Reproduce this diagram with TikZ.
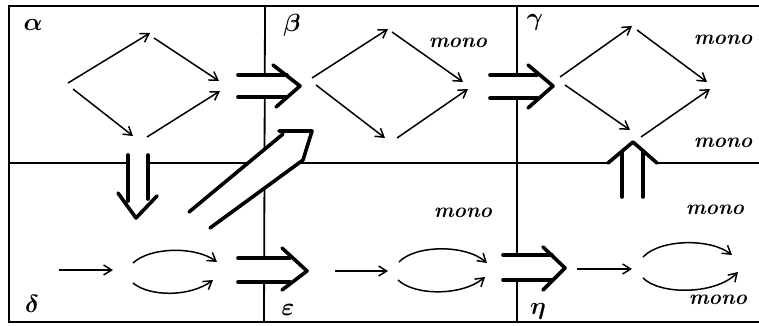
\documentclass[tikz,border=0pt]{standalone}
\usetikzlibrary{arrows.meta}
\newcommand{\bgreek}[1]{{\boldmath$#1$}}
\begin{document}
\begin{tikzpicture}[x=1pt,y=-1pt,
  frame/.style={line width=2.2pt},
  divider/.style={line width=1.8pt},
  thinarrow/.style={line width=1.5pt,-{Straight Barb[length=8pt,width=10pt,line width=1.5pt]}},
  fat/.style={line width=3.6pt,line cap=round,line join=round},
  mask/.style={fill=white,draw=none},
  cell/.style={font=\fontsize{25}{27}\selectfont, inner sep=0pt},
  mono/.style={font=\fontsize{21}{24}\selectfont\bfseries\itshape, inner sep=0pt}]
\useasboundingbox (0,0) rectangle (759,325);
% frame
\draw[frame] (759,6) -- (9,6) -- (9,322) -- (759,322);
\draw[divider] (9,163) -- (759,163);
\draw[divider] (265,6) -- (264,322);
\draw[divider] (517,6) -- (517,322);
% mono labels
\node[mono] (m1) at (458,43) {mono};
\node[mono] (m2) at (723,40) {mono};
\node[mono] (m3) at (723,143) {mono};
\node[mono] (m4) at (463,213) {mono};
\node[mono] (m5) at (715,210) {mono};
\node[mono] (m6) at (718,300) {mono};
% cell labels
\node[cell] (la) at (33,25) {\bgreek{\alpha}};
\node[cell] (lb) at (292,25) {\bgreek{\beta}};
\node[cell] (lg) at (535,22) {\bgreek{\gamma}};
\node[cell] (ld) at (32,304) {\bgreek{\delta}};
\node[cell] (le) at (288,310) {\bgreek{\varepsilon}};
\node[cell] (lh) at (538,311) {\bgreek{\eta}};
% alpha diamond
\draw[thinarrow] (68,83) -- (150,33);
\draw[thinarrow] (154,38) -- (219,81);
\draw[thinarrow] (73,89) -- (133,136);
\draw[thinarrow] (147,137) -- (220,91);
% beta diamond
\draw[thinarrow] (312,78) -- (388,29);
\draw[thinarrow] (392,32) -- (463,82);
\draw[thinarrow] (316,85) -- (385,138);
\draw[thinarrow] (397,138) -- (468,89);
% gamma diamond
\draw[thinarrow] (560,77) -- (632,26);
\draw[thinarrow] (637,30) -- (707,82);
\draw[thinarrow] (565,85) -- (630,130);
\draw[thinarrow] (641,137) -- (710,89);
% delta
\draw[thinarrow] (59,270) -- (113,270);
\draw[thinarrow] (133,263) .. controls (150,247) and (195,246) .. (217,262);
\draw[thinarrow] (133,283) .. controls (150,297) and (190,297) .. (213,280);
% epsilon
\draw[thinarrow] (335,271) -- (388,271);
\draw[thinarrow] (399,262) .. controls (415,245) and (465,244) .. (487,263);
\draw[thinarrow] (398,280) .. controls (415,296) and (462,296) .. (485,277);
% eta
\draw[thinarrow] (577,269) -- (632,269);
\draw[thinarrow] (643,257) .. controls (660,239) and (710,238) .. (732,255);
\draw[thinarrow] (643,278) .. controls (660,295) and (715,295) .. (738,272);
% double arrow alpha -> beta
\fill[mask] (238,75) -- (287,75) -- (300,86) -- (287,97) -- (238,97) -- cycle;
\draw[fat] (238,75) -- (287,75);
\draw[fat] (238,97) -- (287,97);
\draw[fat] (273,65) -- (300,86) -- (276,107);
% double arrow beta -> gamma
\fill[mask] (490,75) -- (537,75) -- (553,86) -- (537,98) -- (490,98) -- cycle;
\draw[fat] (490,75) -- (537,75);
\draw[fat] (490,98) -- (537,98);
\draw[fat] (528,65) -- (553,86) -- (528,108);
% double arrow delta -> epsilon
\fill[mask] (238,258) -- (290,258) -- (307,271) -- (290,282) -- (238,282) -- cycle;
\draw[fat] (238,258) -- (290,258);
\draw[fat] (238,282) -- (290,282);
\draw[fat] (282,248) -- (307,271) -- (282,290);
% double arrow epsilon -> eta
\fill[mask] (503,255) -- (552,255) -- (565,268) -- (552,280) -- (503,280) -- cycle;
\draw[fat] (503,255) -- (552,255);
\draw[fat] (503,280) -- (552,280);
\draw[fat] (543,247) -- (565,268) -- (543,290);
% down arrow alpha -> delta
\fill[mask] (128,152) -- (148,152) -- (148,203) -- (136,214) -- (128,203) -- cycle;
\draw[fat] (128,155) -- (128,201);
\draw[fat] (148,155) -- (148,199);
\draw[fat] (118,193) -- (136,218) -- (157,196);
% up arrow delta -> gamma
\fill[mask] (608,163) -- (633,142) -- (657,163) -- (643,170) -- (622,170) -- cycle;
\draw[fat] (622,197) -- (622,152);
\draw[fat] (643,197) -- (643,152);
\draw[fat] (608,163) -- (633,142) -- (657,163);
% diagonal arrow delta -> beta
\fill[mask] (189,212) -- (283,134) -- (312,131) -- (303,160) -- (210,228) -- cycle;
\draw[fat] (189,212) -- (283,134);
\draw[fat] (279,131) -- (312,131) -- (303,160);
\draw[fat] (210,228) -- (303,160);
\end{tikzpicture}
\end{document}
